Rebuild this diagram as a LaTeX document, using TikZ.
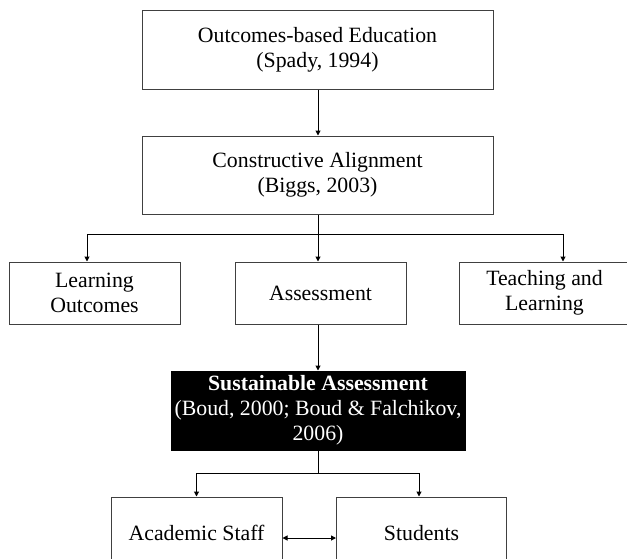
\documentclass[tikz,border=0pt]{standalone}
\usepackage{fontspec}
\setmainfont{Liberation Serif}
\usetikzlibrary{arrows.meta}
\tikzset{
  box/.style={draw=black!75, line width=1pt, fill=white, minimum width=171pt, minimum height=62pt, inner sep=0pt, align=center, font=\fontsize{21.8}{25}\selectfont},
  blackbox/.style={draw=black, line width=1pt, fill=black, text=white, minimum width=294pt, minimum height=79pt, inner sep=0pt, align=center, font=\fontsize{21.8}{25}\selectfont},
  arr/.style={line width=1pt, -{Triangle[length=5pt,width=5pt]}},
  darr/.style={line width=1pt, {Triangle[length=5pt,width=5pt]}-{Triangle[length=5pt,width=5pt]}},
  ln/.style={line width=1pt}
}
\begin{document}
\begin{tikzpicture}[x=1pt,y=1pt]
\clip (0,0) rectangle (627,-558);
\fill[white] (0,0) rectangle (627,-558);
\node[box, minimum width=351pt, minimum height=79pt] (obe) at (317.5,-49.5) {Outcomes-based Education\\(Spady, 1994)};
\node[box, minimum width=351pt, minimum height=78pt] (ca) at (317.5,-175) {Constructive Alignment\\(Biggs, 2003)};
\node[box] (lo) at (94.5,-293) {Learning\\Outcomes};
\node[box] (as) at (320.5,-293) {Assessment};
\node[box] (tl) at (544.5,-293) {Teaching and\\Learning};
\node[blackbox] (sa) at (318,-410.5) {\textbf{Sustainable Assessment}\\(Boud, 2000; Boud \& Falchikov,\\2006)};
\node[box, minimum height=72pt] (staff) at (196.5,-533) {Academic Staff};
\node[box, minimum width=170pt, minimum height=72pt] (st) at (421.5,-533) {Students};
\coordinate (j1) at (318,-234);
\coordinate (j2) at (318,-473);
\draw[arr] (obe.south -| j1) -- (ca.north -| j1);
\draw[ln] (ca.south -| j1) -- (j1);
\draw[arr] (j1) -| ([xshift=-7.5pt]lo.north);
\draw[arr] (j1) -- (as.north -| j1);
\draw[arr] (j1) -| ([xshift=18.5pt]tl.north);
\draw[arr] (as.south -| j1) -- (sa.north -| j1);
\draw[ln] (sa.south -| j1) -- (j2);
\draw[arr] (j2) -| (staff.north);
\draw[arr] (j2) -| ([xshift=-2.5pt]st.north);
\draw[darr] ([yshift=-5pt]staff.east) -- ([yshift=-5pt]st.west);
\end{tikzpicture}
\end{document}
